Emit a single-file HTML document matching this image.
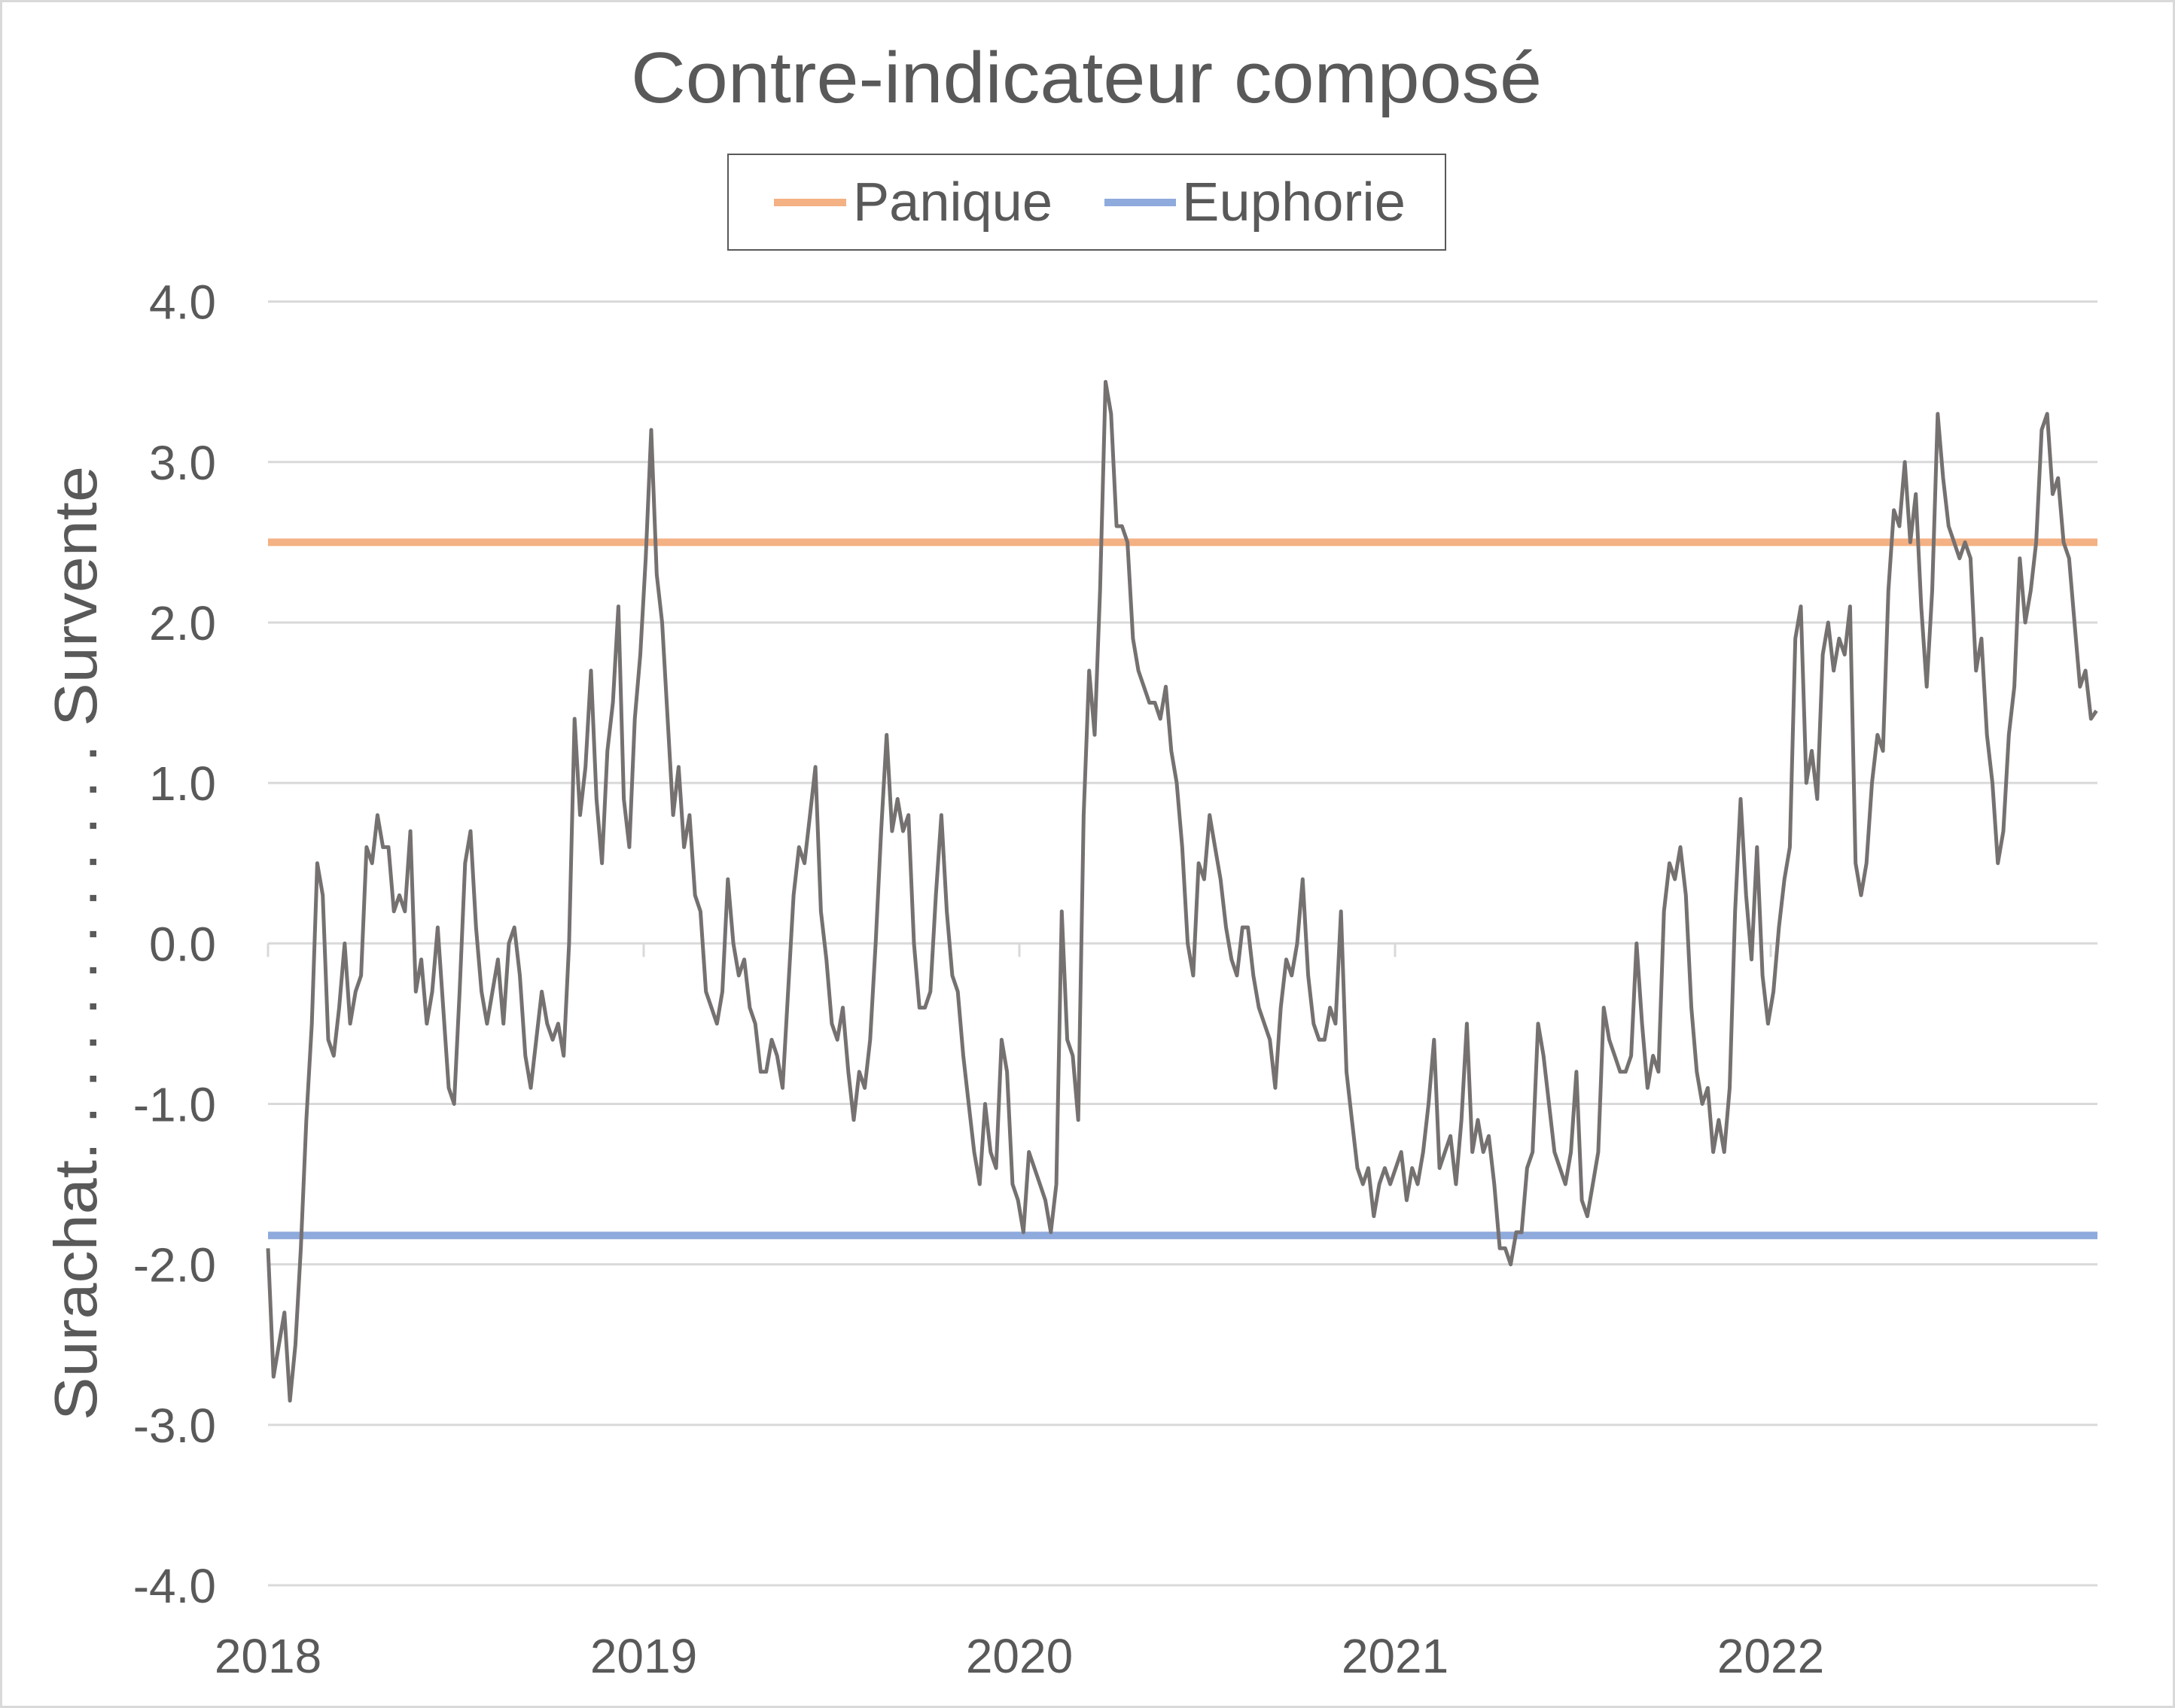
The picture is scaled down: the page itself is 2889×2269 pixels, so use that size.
<!DOCTYPE html>
<html><head><meta charset="utf-8"><style>
html,body{margin:0;padding:0;background:#fff;}
svg{display:block;font-family:"Liberation Sans",sans-serif;}
</style></head><body>
<svg id="chart" width="2889" height="2269" viewBox="0 0 2889 2269">
<rect x="1.5" y="1.5" width="2886" height="2266" fill="#fff" stroke="#d9d9d9" stroke-width="3"/>
<text x="1443" y="136" text-anchor="middle" font-size="96" textLength="1210" lengthAdjust="spacingAndGlyphs" fill="#595959">Contre-indicateur composé</text>
<g>
<rect x="967" y="205" width="953" height="127" fill="#fff" stroke="#595959" stroke-width="2"/>
<g>
<line x1="1028" y1="269" x2="1124" y2="269" stroke="#f4b183" stroke-width="10"/>
<text x="1133" y="293" font-size="72" textLength="265" lengthAdjust="spacingAndGlyphs" fill="#595959">Panique</text>
</g>
<g>
<line x1="1467" y1="269" x2="1562" y2="269" stroke="#8faadc" stroke-width="10"/>
<text x="1570" y="293" font-size="72" textLength="297" lengthAdjust="spacingAndGlyphs" fill="#595959">Euphorie</text>
</g>
</g>
<text transform="translate(128,1253) rotate(-90)" text-anchor="middle" font-size="80" textLength="1268" lengthAdjust="spacingAndGlyphs" fill="#595959">Surachat. . . . . . . . . . . . Survente</text>
<g id="grid"></g><g id="yticks"></g><g id="xticks"></g><g id="refs"></g><g id="series"></g>
</svg>
<script>
const yTicks = [4,3,2,1,0,-1,-2,-3,-4];
const yTickLabels = ["4.0","3.0","2.0","1.0","0.0","-1.0","-2.0","-3.0","-4.0"];
const xYears = [2018,2019,2020,2021,2022];
const xYearLabels = ["2018","2019","2020","2021","2022"];
const paniqueLevel = 2.5;
const euphorieLevel = -1.82;
const seriesStart = 2018.0;
const seriesEnd = 2022.867;
const seriesValues = [-1.9,-2.7,-2.5,-2.3,-2.85,-2.5,-1.9,-1.1,-0.5,0.5,0.3,-0.6,-0.7,-0.4,0.0,-0.5,-0.3,-0.2,0.6,0.5,0.8,0.6,0.6,0.2,0.3,0.2,0.7,-0.3,-0.1,-0.5,-0.3,0.1,-0.4,-0.9,-1.0,-0.3,0.5,0.7,0.1,-0.3,-0.5,-0.3,-0.1,-0.5,0.0,0.1,-0.2,-0.7,-0.9,-0.6,-0.3,-0.5,-0.6,-0.5,-0.7,0.0,1.4,0.8,1.1,1.7,0.9,0.5,1.2,1.5,2.1,0.9,0.6,1.4,1.8,2.4,3.2,2.3,2.0,1.4,0.8,1.1,0.6,0.8,0.3,0.2,-0.3,-0.4,-0.5,-0.3,0.4,0.0,-0.2,-0.1,-0.4,-0.5,-0.8,-0.8,-0.6,-0.7,-0.9,-0.3,0.3,0.6,0.5,0.8,1.1,0.2,-0.1,-0.5,-0.6,-0.4,-0.8,-1.1,-0.8,-0.9,-0.6,0.0,0.7,1.3,0.7,0.9,0.7,0.8,0.0,-0.4,-0.4,-0.3,0.3,0.8,0.2,-0.2,-0.3,-0.7,-1.0,-1.3,-1.5,-1.0,-1.3,-1.4,-0.6,-0.8,-1.5,-1.6,-1.8,-1.3,-1.4,-1.5,-1.6,-1.8,-1.5,0.2,-0.6,-0.7,-1.1,0.8,1.7,1.3,2.2,3.5,3.3,2.6,2.6,2.5,1.9,1.7,1.6,1.5,1.5,1.4,1.6,1.2,1.0,0.6,0.0,-0.2,0.5,0.4,0.8,0.6,0.4,0.1,-0.1,-0.2,0.1,0.1,-0.2,-0.4,-0.5,-0.6,-0.9,-0.4,-0.1,-0.2,0.0,0.4,-0.2,-0.5,-0.6,-0.6,-0.4,-0.5,0.2,-0.8,-1.1,-1.4,-1.5,-1.4,-1.7,-1.5,-1.4,-1.5,-1.4,-1.3,-1.6,-1.4,-1.5,-1.3,-1.0,-0.6,-1.4,-1.3,-1.2,-1.5,-1.1,-0.5,-1.3,-1.1,-1.3,-1.2,-1.5,-1.9,-1.9,-2.0,-1.8,-1.8,-1.4,-1.3,-0.5,-0.7,-1.0,-1.3,-1.4,-1.5,-1.3,-0.8,-1.6,-1.7,-1.5,-1.3,-0.4,-0.6,-0.7,-0.8,-0.8,-0.7,0.0,-0.5,-0.9,-0.7,-0.8,0.2,0.5,0.4,0.6,0.3,-0.4,-0.8,-1.0,-0.9,-1.3,-1.1,-1.3,-0.9,0.2,0.9,0.3,-0.1,0.6,-0.2,-0.5,-0.3,0.1,0.4,0.6,1.9,2.1,1.0,1.2,0.9,1.8,2.0,1.7,1.9,1.8,2.1,0.5,0.3,0.5,1.0,1.3,1.2,2.2,2.7,2.6,3.0,2.5,2.8,2.1,1.6,2.2,3.3,2.9,2.6,2.5,2.4,2.5,2.4,1.7,1.9,1.3,1.0,0.5,0.7,1.3,1.6,2.4,2.0,2.2,2.5,3.2,3.3,2.8,2.9,2.5,2.4,2.0,1.6,1.7,1.4,1.45];

const NS="http://www.w3.org/2000/svg";
const X0=356,X1=2786,Y_TOP=400.6,Y_BOT=2106;
const yScale=v=>Y_TOP+(4-v)*(Y_BOT-Y_TOP)/8;
const xScale=t=>X0+(t-2018)*499;
function mk(tag,attrs,parent){const e=document.createElementNS(NS,tag);for(const k in attrs)e.setAttribute(k,attrs[k]);parent.appendChild(e);return e;}
const grid=document.getElementById('grid'),yt=document.getElementById('yticks'),xt=document.getElementById('xticks'),refs=document.getElementById('refs'),ser=document.getElementById('series');
yTicks.forEach((v,i)=>{
  const l=mk('line',{x1:X0,x2:X1,y1:yScale(v),y2:yScale(v),stroke:'#d9d9d9','stroke-width':3},grid);
  
  
  const t=mk('text',{x:287,y:yScale(v)+23,'text-anchor':'end','font-size':64,fill:'#595959'},yt);
  t.textContent=yTickLabels[i];
  
  
});
xYears.forEach((yr,i)=>{
  const x=xScale(yr);
  const tk=mk('line',{x1:x,x2:x,y1:yScale(0),y2:yScale(0)+18,stroke:'#d9d9d9','stroke-width':3},xt);
  
  
  const t=mk('text',{x:x,y:2222,'text-anchor':'middle','font-size':64,fill:'#595959'},xt);
  t.textContent=xYearLabels[i];
  
  
});
const pl=mk('line',{x1:X0,x2:X1,y1:yScale(paniqueLevel),y2:yScale(paniqueLevel),stroke:'#f4b183','stroke-width':10},refs);


const el=mk('line',{x1:X0,x2:X1,y1:yScale(euphorieLevel),y2:yScale(euphorieLevel),stroke:'#8faadc','stroke-width':10},refs);


const n=seriesValues.length;
const pts=seriesValues.map((v,i)=>{const t=seriesStart+(seriesEnd-seriesStart)*i/(n-1);return xScale(t).toFixed(1)+','+yScale(v).toFixed(1);});
const path=mk('polyline',{points:pts.join(' '),fill:'none',stroke:'#767171','stroke-width':5,'stroke-linejoin':'round'},ser);


</script>
</body></html>
